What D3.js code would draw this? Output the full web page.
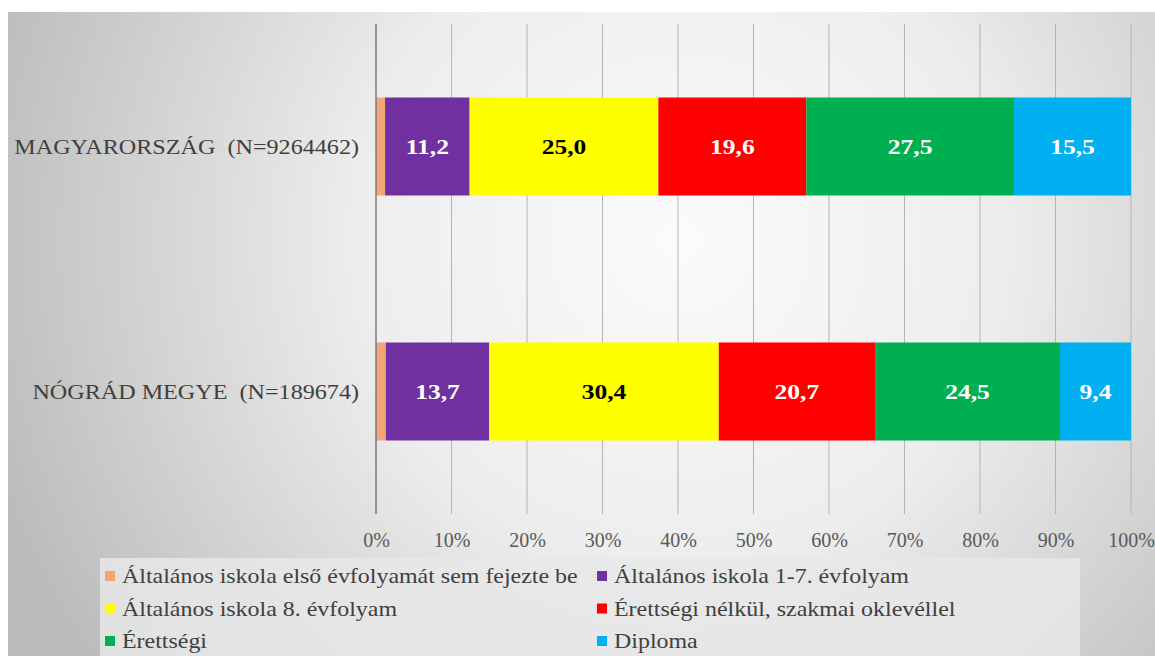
<!DOCTYPE html>
<html>
<head>
<meta charset="utf-8">
<script src="https://cdn.jsdelivr.net/npm/d3@7"></script>
<style>
    body { margin: 0; background: #ffffff; }
    svg { display: block; }
</style>
</head>
<body>
<script>

// adatok
let categories = ["MAGYARORSZÁG (N=9264462)", "NÓGRÁD MEGYE (N=189674)"];
let seriesNames = [
    "Általános iskola első évfolyamát sem fejezte be",
    "Általános iskola 1-7. évfolyam",
    "Általános iskola 8. évfolyam",
    "Érettségi nélkül, szakmai oklevéllel",
    "Érettségi",
    "Diploma"
];
let seriesColors = ["#f4a574", "#7030a0", "#ffff00", "#ff0000", "#00b050", "#00b0f0"];
let labelColors = ["#ffffff", "#ffffff", "#000000", "#ffffff", "#ffffff", "#ffffff"];
let magyarorszag = [1.2, 11.2, 25.0, 19.6, 27.5, 15.5];
let nograd = [1.3, 13.7, 30.4, 20.7, 24.5, 9.4];
let tickValues = [0, 10, 20, 30, 40, 50, 60, 70, 80, 90, 100];

let values = [magyarorszag, nograd];

// a kep vizszintesen kicsit szethuzott, a szoveget is szethuzzuk
var serif = "'Liberation Serif', 'Times New Roman', serif";

function buildsvg() {

    var w = 1155;
    var h = 656;

    var svg = d3.select("body")
        .append("svg")
        .attr("width", w)
        .attr("height", h);

    // hatter - szurke radialis atmenet
    var defs = svg.append("defs");
    var grad = defs.append("radialGradient")
        .attr("id", "bg")
        .attr("gradientUnits", "userSpaceOnUse")
        .attr("cx", 680)
        .attr("cy", 240)
        .attr("r", 720);
    grad.append("stop").attr("offset", "0").attr("stop-color", "#fbfbfb");
    grad.append("stop").attr("offset", "0.45").attr("stop-color", "#ededed");
    grad.append("stop").attr("offset", "1").attr("stop-color", "#bcbcbc");

    svg.append("rect")
        .attr("x", 8)
        .attr("y", 12)
        .attr("width", w - 8)
        .attr("height", h - 12)
        .attr("fill", "url(#bg)");

    var x = d3.scaleLinear()
        .domain([0, 100])
        .range([376, 1131]);

    var y = d3.scaleBand()
        .domain(categories)
        .range([24, 514])
        .paddingInner(0.6)
        .paddingOuter(0.3);

    // racsvonalak
    svg.selectAll(".grid")
        .data(tickValues.slice(1))
        .enter()
        .append("line")
        .attr("class", "grid")
        .attr("x1", function (d) { return x(d); })
        .attr("x2", function (d) { return x(d); })
        .attr("y1", 24)
        .attr("y2", 514)
        .attr("stroke", "#b4b4b4")
        .attr("stroke-width", 1);

    // also tengely cimkek
    var xAxis = d3.axisBottom(x)
        .tickValues(tickValues)
        .tickFormat(function (d) { return d + "%"; })
        .tickSize(0)
        .tickPadding(0);

    var gx = svg.append("g")
        .attr("transform", "translate(0,540)")
        .call(xAxis);
    gx.select(".domain").remove();
    gx.selectAll("text")
        .attr("dy", "0.35em")
        .attr("fill", "#595959")
        .style("font-family", serif)
        .style("font-size", "20px");

    // halmozott savok
    var stacked = [];
    for (var i = 0; i < categories.length; i++) {
        var start = 0;
        for (var j = 0; j < seriesNames.length; j++) {
            stacked.push({ cat: categories[i], s: j, x0: start, x1: start + values[i][j], v: values[i][j] });
            start = start + values[i][j];
        }
    }

    svg.selectAll(".seg")
        .data(stacked)
        .enter()
        .append("rect")
        .attr("class", "seg")
        .attr("x", function (d) { return x(d.x0); })
        .attr("y", function (d) { return y(d.cat); })
        .attr("width", function (d) { return x(d.x1) - x(d.x0); })
        .attr("height", y.bandwidth())
        .attr("fill", function (d) { return seriesColors[d.s]; });

    svg.selectAll(".val")
        .data(stacked.filter(function (d) { return d.s > 0; }))
        .enter()
        .append("text")
        .attr("class", "val")
        .attr("transform", function (d) {
            var cx = (x(d.x0) + x(d.x1)) / 2;
            var cy = y(d.cat) + y.bandwidth() / 2;
            return "translate(" + cx + "," + cy + ") scale(1.16,1)";
        })
        .attr("dy", "0.35em")
        .attr("text-anchor", "middle")
        .attr("fill", function (d) { return labelColors[d.s]; })
        .style("font-family", serif)
        .style("font-weight", "bold")
        .style("font-size", "22px")
        .text(function (d) { return d.v.toFixed(1).replace(".", ","); });

    // fuggoleges tengely
    svg.append("line")
        .attr("x1", x(0))
        .attr("x2", x(0))
        .attr("y1", 24)
        .attr("y2", 514)
        .attr("stroke", "#7a7a7a")
        .attr("stroke-width", 1.5);

    // kategoria cimkek
    svg.selectAll(".cat")
        .data(categories)
        .enter()
        .append("text")
        .attr("class", "cat")
        .attr("transform", function (d) {
            return "translate(359," + (y(d) + y.bandwidth() / 2) + ") scale(1.15,1)";
        })
        .attr("dy", "0.35em")
        .attr("text-anchor", "end")
        .attr("fill", "#404040")
        .style("font-family", serif)
        .style("font-size", "21px")
        .style("white-space", "pre")
        .text(function (d) { return d.replace(" (", "  ("); });

    // jelmagyarazat
    svg.append("rect")
        .attr("x", 100)
        .attr("y", 558)
        .attr("width", 980)
        .attr("height", 98)
        .attr("fill", "#e8e8e8")
        .attr("opacity", 0.85);

    var legend = svg.selectAll(".leg")
        .data(seriesNames)
        .enter()
        .append("g")
        .attr("class", "leg")
        .attr("transform", function (d, i) {
            var lx = (i % 2 == 0) ? 105 : 597;
            var ly = 576 + Math.floor(i / 2) * 32.5;
            return "translate(" + lx + "," + ly + ")";
        });

    legend.append("rect")
        .attr("x", 0)
        .attr("y", -5)
        .attr("width", 10)
        .attr("height", 10)
        .attr("fill", function (d, i) { return seriesColors[i]; });

    legend.append("text")
        .attr("transform", "translate(17,0) scale(1.14,1)")
        .attr("dy", "0.35em")
        .attr("fill", "#404040")
        .style("font-family", serif)
        .style("font-size", "21px")
        .text(function (d) { return d; });
};

buildsvg();

</script>
</body>
</html>
